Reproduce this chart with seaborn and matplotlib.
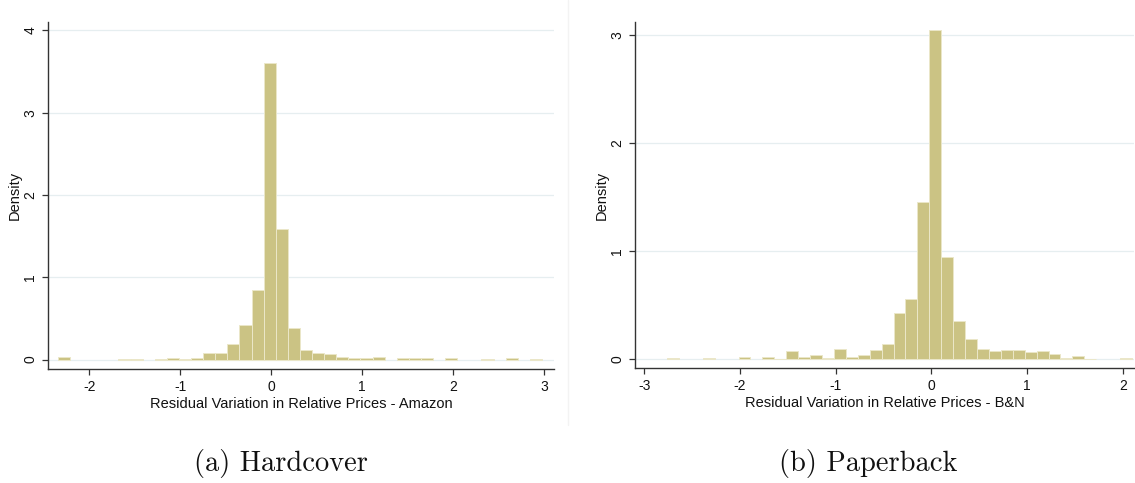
import numpy as np
import pandas as pd
import matplotlib
matplotlib.use("Agg")
import matplotlib.pyplot as plt
import seaborn as sns

# ---------------- data ----------------
# Panel (a): Hardcover, Amazon residuals - 40 bins
hard_bin_lo = -2.345
hard_bin_w = 0.133
hard_density = [0.028, 0, 0, 0, 0, 0.012, 0.012, 0, 0.012, 0.02,
                0.012, 0.02, 0.078, 0.078, 0.19, 0.426, 0.843, 3.61, 1.593, 0.39,
                0.113, 0.081, 0.067, 0.032, 0.016, 0.016, 0.032, 0, 0.016, 0.016,
                0.02, 0, 0.016, 0, 0, 0.012, 0, 0.016, 0, 0.012]

# Panel (b): Paperback, B&N residuals - 39 bins
paper_bin_lo = -2.762
paper_bin_w = 0.1246
paper_density = [0.012, 0, 0, 0.009, 0, 0, 0.025, 0, 0.022, 0.006,
                 0.074, 0.022, 0.043, 0.015, 0.093, 0.019, 0.037, 0.086, 0.139, 0.432,
                 0.558, 1.455, 3.047, 0.944, 0.358, 0.191, 0.096, 0.077, 0.089, 0.086,
                 0.071, 0.077, 0.046, 0.009, 0.031, 0.006, 0, 0, 0.008]

hard_xticks = [-2, -1, 0, 1, 2, 3]
hard_yticks = [0, 1, 2, 3, 4]
paper_xticks = [-3, -2, -1, 0, 1, 2]
paper_yticks = [0, 1, 2, 3]

hard_xlabel = "Residual Variation in Relative Prices - Amazon"
paper_xlabel = "Residual Variation in Relative Prices - B&N"
ylabel = "Density"
captions = ["(a) Hardcover", "(b) Paperback"]

# ---------------- style ----------------
sns.set_theme(style="white")
plt.rcParams["font.family"] = ["Liberation Sans", "DejaVu Sans"]
plt.rcParams["axes.unicode_minus"] = False

BAR = "#cbc384"
EDGE = "#ebe7c9"
GRID = "#e6eef0"
AXC = "#333333"

W, H = 1135, 483
fig = plt.figure(figsize=(W / 100, H / 100), dpi=100)
fig.patch.set_facecolor("white")


def px_axes(left, top, right, bottom):
    return fig.add_axes([left / W, 1 - bottom / H, (right - left) / W, (bottom - top) / H])


def draw(ax, lo, w, dens, xticks, yticks, xlim, ylim, xlabel):
    n = len(dens)
    edges = lo + w * np.arange(n + 1)
    centers = (edges[:-1] + edges[1:]) / 2
    df = pd.DataFrame({"x": centers, "d": dens})
    sns.histplot(data=df, x="x", weights="d", bins=[float(e) for e in edges], stat="count",
                 color=BAR, edgecolor=EDGE, linewidth=0.7, alpha=1.0, ax=ax)
    for p in ax.patches:
        if p.get_height() <= 0:
            p.set_visible(False)
    ax.set_xlim(*xlim)
    ax.set_ylim(*ylim)
    ax.set_xticks(xticks)
    ax.set_yticks(yticks)
    ax.set_xticklabels([str(t) for t in xticks])
    ax.set_yticklabels([str(t) for t in yticks])
    ax.set_axisbelow(True)
    ax.yaxis.grid(True, color=GRID, linewidth=0.9)
    ax.xaxis.grid(False)
    for s in ["top", "right"]:
        ax.spines[s].set_visible(False)
    for s in ["left", "bottom"]:
        ax.spines[s].set_color(AXC)
        ax.spines[s].set_linewidth(1.0)
    ax.tick_params(axis="both", direction="out", length=4, width=0.9,
                   color=AXC, labelsize=10, labelcolor="#111111", pad=4,
                   bottom=True, left=True)
    ax.tick_params(axis="y", labelrotation=90)
    for lab in ax.get_yticklabels():
        lab.set_va("center")
    ax.set_xlabel(xlabel, fontsize=10.5, color="#111111", labelpad=2)
    ax.set_ylabel(ylabel, fontsize=10.5, color="#111111", labelpad=1)


ax1 = px_axes(48.3, 21.7, 554, 369)
draw(ax1, hard_bin_lo, hard_bin_w, hard_density, hard_xticks, hard_yticks,
     (-2.451, 3.107), (-0.114, 4.106), hard_xlabel)

ax2 = px_axes(635.3, 21.7, 1134, 368.3)
draw(ax2, paper_bin_lo, paper_bin_w, paper_density, paper_xticks, paper_yticks,
     (-3.093, 2.118), (-0.083, 3.123), paper_xlabel)

# faint subfigure border
fig.add_artist(plt.Line2D([568 / W, 568 / W], [1 - 425 / H, 1.0],
                          transform=fig.transFigure, color="#f3f3f3", linewidth=1.0))

fig.text(281 / W, 1 - 471 / H, captions[0], fontfamily="cmr10", fontsize=20.5,
         ha="center", va="baseline", color="#111111")
fig.text(868 / W, 1 - 471 / H, captions[1], fontfamily="cmr10", fontsize=20.5,
         ha="center", va="baseline", color="#111111")

fig.savefig("out.png", dpi=100, facecolor="white")
